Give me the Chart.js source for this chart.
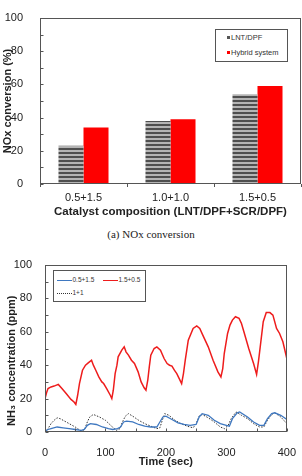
<!DOCTYPE html>
<html>
<head>
<meta charset="utf-8">
<script src="https://cdn.jsdelivr.net/npm/chart.js@4.4.1/dist/chart.umd.min.js"></script>
<style>
  html, body { margin: 0; padding: 0; background: #fff; }
  body { width: 302px; height: 476px; position: relative; overflow: hidden;
         font-family: 'Liberation Sans', Arial, sans-serif; color: #222; }
  canvas { position: absolute; left: 0; }
  #graficaNox { top: 0; }
  #graficaNh3 { top: 240px; }
  .leyenda { position: absolute; box-sizing: border-box; border: 1.5px solid #555; background: #fff; }
  .fila { position: absolute; white-space: nowrap; color: #333; }
  .marca { position: absolute; }
  .pie { position: absolute; left: 0; width: 302px; text-align: center;
         font-family: 'Liberation Serif', 'Times New Roman', serif; font-size: 11px; color: #222; }
</style>
</head>
<body>
<canvas id="graficaNox" width="302" height="225"></canvas>
<div class="pie" style="top:228px">(a) NOx conversion</div>
<canvas id="graficaNh3" width="302" height="236"></canvas>
<div class="leyenda" id="leyendaNox" style="left:215px; top:29px; width:73px; height:33px;"></div>
<div class="leyenda" id="leyendaNh3" style="left:53px; top:270px; width:93px; height:32px;"></div>

<script>
// ---- datos (a): conversión de NOx ----
const composiciones = ['0.5+1.5', '1.0+1.0', '1.5+0.5'];
const conversionLntDpf = [23, 38, 54];
const conversionHibrido = [34, 39, 59];
const ticksConversion = [0, 20, 40, 60, 80, 100];

// ---- datos (b): NH3 a la salida ----
const tiempoRojo = [0, 3, 5, 10, 15, 22, 28, 35, 43, 48, 51, 54, 57, 62, 67, 72, 77, 80, 84, 89,
  94, 97, 102, 108, 110.5, 113, 116, 119, 121, 127, 131, 134, 138, 143, 148, 154, 159, 164, 167, 170,
  172.5, 175, 180.5, 185, 191, 197, 202, 206, 210, 214, 218, 224, 226, 229, 232, 237, 245, 251, 256, 261,
  270, 278, 286, 291, 294, 296.5, 302, 306, 310, 315, 321, 325, 329, 337, 345, 350, 353, 356, 361, 366,
  372, 377, 383, 388, 393.5, 400];
const nh3Rojo = [20, 24, 26, 27, 27.5, 28.5, 26, 23, 19.5, 18, 16.5, 22, 29, 37, 40, 41.5, 43, 40, 37, 33,
  30, 29, 26, 22, 20, 25, 35, 40, 45, 49, 51, 48, 46, 43, 41, 36, 30, 26.5, 25, 31,
  39, 46, 50, 51, 49, 44, 41, 40, 39.5, 37, 35, 30.5, 29, 35, 43, 55, 62, 63.5, 62, 58,
  51, 43, 36, 33, 38, 47, 59, 64, 67, 69, 68, 65, 60, 50, 41, 34.5, 42, 51, 66, 71.5,
  71.5, 70, 62, 59, 54, 44];

const tiempoAzul = [0, 5, 10, 20, 30, 40, 50, 60, 65, 70, 75, 85, 95, 105, 112, 120, 125, 130, 135, 145,
  155, 165, 175, 185, 190, 195, 200, 210, 220, 230, 240, 250, 255, 260, 270, 280, 290, 300, 305, 310,
  318, 322, 335, 345, 355, 362, 368, 375, 380, 390, 400];
const nh3Azul = [0.5, 1.5, 2, 3, 2.5, 2, 1.5, 1, 1.5, 4, 5, 4.5, 3, 2, 1.5, 2, 3, 6, 6.5, 6,
  4.5, 3.5, 3, 3, 6, 9, 9.5, 7.5, 5.5, 4.5, 4, 4.5, 9, 11, 10, 7, 5, 4, 3.5, 8,
  11.5, 12, 9, 6, 4, 4, 8, 11, 11.5, 10, 7.5];

const tiempoNegro = [0, 5, 10, 15, 20, 25, 30, 40, 50, 58, 62, 66, 70, 74, 80, 90, 100, 110, 118, 124,
  128, 133, 138, 145, 155, 165, 175, 185, 190, 194, 198, 205, 215, 225, 235, 245, 250, 255, 260, 270,
  280, 290, 297, 303, 308, 316, 325, 335, 345, 355, 362, 368, 375, 380, 390, 400];
const nh3Negro = [0, 2, 5, 7, 8.5, 8, 7, 5, 3, 1, 0.5, 2, 6, 9, 10.5, 9, 7, 3.5, 1, 2,
  6, 9.5, 11, 9.5, 7, 5, 3.5, 2, 2.5, 7, 11, 10, 7, 5, 3.5, 2.5, 5, 9.5, 10.5, 8.5,
  6, 3, 2, 4, 8, 12, 10, 8, 5, 3, 3, 7, 10.5, 11.5, 9, 5];

const ticksTiempo = [0, 100, 200, 300, 400];

Chart.defaults.font.family = "'Liberation Sans', Arial, sans-serif";
Chart.defaults.color = '#222';
Chart.defaults.animation = false;

// Marco completo del área y marcas hacia dentro
const marcoInterior = {
  id: 'marcoInterior',
  afterDraw(chart, args, opts) {
    const { ctx, chartArea: a, scales } = chart;
    ctx.save();
    ctx.strokeStyle = opts.color || '#555';
    ctx.lineWidth = 1;
    const l = Math.round(a.left) + 0.5, r = Math.round(a.right) - 0.5;
    const t = Math.round(a.top) + 0.5, b = Math.round(a.bottom) - 0.5;
    ctx.strokeRect(l, t, r - l, b - t);
    ctx.beginPath();
    if (opts.pasoY) {
      const y = scales.y;
      for (let v = y.min; v <= y.max; v += opts.pasoY) {
        const py = Math.round(y.getPixelForValue(v)) + 0.5;
        ctx.moveTo(l, py); ctx.lineTo(l + 3, py);
      }
    }
    if (opts.pasoX) {
      const x = scales.x;
      for (let v = x.min; v <= x.max; v += opts.pasoX) {
        const px = Math.round(x.getPixelForValue(v)) + 0.5;
        ctx.moveTo(px, b); ctx.lineTo(px, b - 3);
      }
    }
    ctx.stroke();
    ctx.restore();
  }
};

// Relleno rayado para las barras LNT/DPF
function crearRayado() {
  const c = document.createElement('canvas');
  c.width = 4; c.height = 4;
  const g = c.getContext('2d');
  g.fillStyle = '#b4b4b4'; g.fillRect(0, 0, 4, 4);
  g.fillStyle = '#4e4e4e'; g.fillRect(0, 0, 4, 2);
  return document.getElementById('graficaNox').getContext('2d').createPattern(c, 'repeat');
}

const fuenteTitulo = { size: 11, weight: 'bold' };

new Chart(document.getElementById('graficaNox'), {
  type: 'bar',
  data: {
    labels: composiciones,
    datasets: [
      { label: 'LNT/DPF', data: conversionLntDpf, backgroundColor: crearRayado(),
        categoryPercentage: 0.575, barPercentage: 1 },
      { label: 'Hybrid system', data: conversionHibrido, backgroundColor: '#fe0000',
        categoryPercentage: 0.575, barPercentage: 1 }
    ]
  },
  options: {
    responsive: false,
    layout: { padding: { top: 18, right: 1, left: 0, bottom: 0 } },
    plugins: { legend: { display: false }, tooltip: { enabled: false },
               marcoInterior: { pasoY: 10, color: '#555' } },
    scales: {
      x: {
        afterFit: s => { s.height = 41; },
        grid: { offset: true, drawOnChartArea: false, tickLength: 3, color: '#555' },
        border: { display: false },
        ticks: { padding: 4, font: { size: 11 } },
        title: { display: true, text: 'Catalyst composition (LNT/DPF+SCR/DPF)',
                 font: { size: 11.5, weight: 'bold' }, padding: { top: 0, bottom: 6.5 } }
      },
      y: {
        min: 0, max: 100,
        afterFit: s => { s.width = 40; },
        afterBuildTicks: s => { s.ticks = ticksConversion.map(v => ({ value: v })); },
        grid: { display: false },
        border: { display: false },
        ticks: { padding: 9, font: { size: 11 } },
        title: { display: true, text: 'NOx conversion (%)', font: fuenteTitulo,
                 padding: { top: 1, bottom: 0 } }
      }
    }
  },
  plugins: [marcoInterior]
});

const series = [
  { label: '0.5+1.5', xs: tiempoAzul, ys: nh3Azul, color: '#3f78c0', ancho: 1.3, trazo: [] },
  { label: '1.5+0.5', xs: tiempoRojo, ys: nh3Rojo, color: '#ee1c1c', ancho: 1.5, trazo: [] },
  { label: '1+1', xs: tiempoNegro, ys: nh3Negro, color: '#333', ancho: 1, trazo: [1.5, 1.5] }
];

new Chart(document.getElementById('graficaNh3'), {
  type: 'line',
  data: {
    datasets: series.map(s => ({
      label: s.label,
      data: s.xs.map((t, i) => ({ x: t, y: s.ys[i] })),
      borderColor: s.color,
      borderWidth: s.ancho,
      borderDash: s.trazo,
      pointRadius: 0,
      tension: 0,
      fill: false
    }))
  },
  options: {
    responsive: false,
    layout: { padding: { top: 25, right: 10, left: 0, bottom: 0 } },
    plugins: { legend: { display: false }, tooltip: { enabled: false },
               marcoInterior: { pasoY: 10, pasoX: 50, color: '#555' } },
    scales: {
      x: {
        type: 'linear', min: 0, max: 400,
        afterFit: s => { s.height = 44; },
        afterBuildTicks: s => { s.ticks = ticksTiempo.map(v => ({ value: v })); },
        grid: { display: false },
        border: { display: false },
        ticks: { padding: 6, font: { size: 11 } },
        title: { display: true, text: 'Time (sec)', font: fuenteTitulo,
                 padding: { top: 0, bottom: 7.7 } }
      },
      y: {
        min: 0, max: 100,
        afterFit: s => { s.width = 45; },
        afterBuildTicks: s => { s.ticks = ticksConversion.map(v => ({ value: v })); },
        grid: { display: false },
        border: { display: false },
        ticks: { padding: 5, font: { size: 11 } },
        title: { display: true, text: '  NH\u2083 concentration (ppm)', font: fuenteTitulo,
                 align: 'start', padding: { top: 5.4, bottom: 0 } }
      }
    }
  },
  plugins: [marcoInterior]
});

// Leyendas en HTML
const leyendaNox = document.getElementById('leyendaNox');
[['LNT/DPF', '#555', 2.5], ['Hybrid system', '#fe0000', 18]].forEach(([texto, color, arriba]) => {
  leyendaNox.innerHTML +=
    `<div class="fila" style="top:${arriba}px; left:15px; height:9px; line-height:9px; font-size:7.5px;">${texto}</div>` +
    `<div class="marca" style="top:${arriba + 3}px; left:10.5px; width:3px; height:3px; background:${color};"></div>`;
});

const leyendaNh3 = document.getElementById('leyendaNh3');
const posiciones = [[2.5, 4.5], [48.5, 4.5], [2.5, 17.5]];
series.forEach((s, i) => {
  const [izq, arriba] = posiciones[i];
  const estilo = s.trazo.length ? `border-top:1px dotted ${s.color};` : `border-top:1.5px solid ${s.color};`;
  leyendaNh3.innerHTML +=
    `<div class="marca" style="top:${arriba + 4}px; left:${izq}px; width:15px; height:0; ${estilo}"></div>` +
    `<div class="fila" style="top:${arriba}px; left:${izq + 16}px; height:8px; line-height:8px; font-size:6.5px;">${s.label}</div>`;
});
</script>
</body>
</html>
